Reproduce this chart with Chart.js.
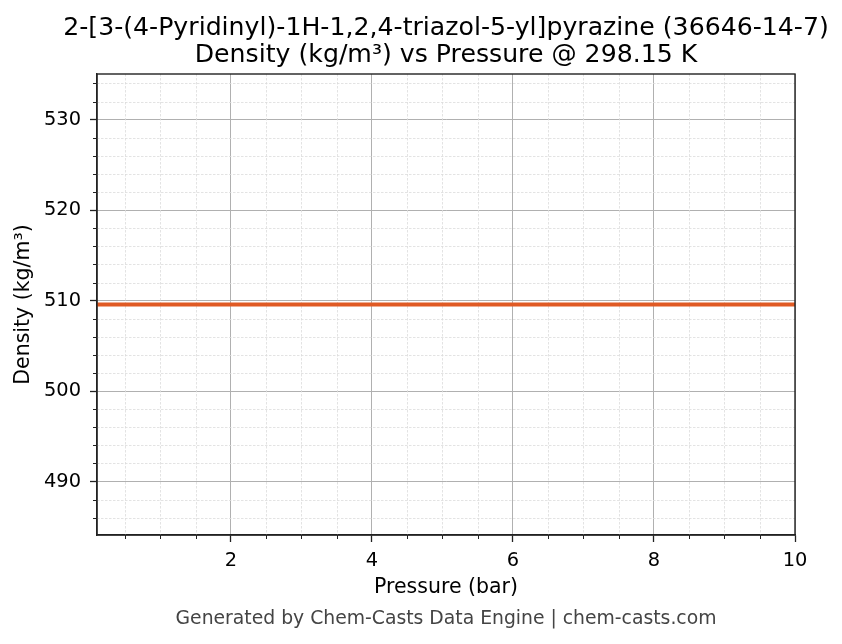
<!DOCTYPE html>
<html>
<head>
<meta charset="utf-8">
<script src="https://cdn.jsdelivr.net/npm/chart.js@4"></script>
<style>
  html, body { margin: 0; padding: 0; background: #ffffff; }
  #wrap { width: 842px; height: 644px; }
</style>
</head>
<body>
<div id="wrap"><canvas id="c" width="842" height="644"></canvas></div>
<script>
// ---- data ----
const pressures = [0.1, 1, 2, 3, 4, 5, 6, 7, 8, 9, 10];
const densities = [509.57, 509.57, 509.57, 509.57, 509.57, 509.57, 509.57, 509.57, 509.57, 509.57, 509.57];
const xMajorTicks = [2, 4, 6, 8, 10];
const xMinorTicks = [0.5, 1, 1.5, 2.5, 3, 3.5, 4.5, 5, 5.5, 6.5, 7, 7.5, 8.5, 9, 9.5];
const yMajorTicks = [490, 500, 510, 520, 530];
const yMinorTicks = [486, 488, 492, 494, 496, 498, 502, 504, 506, 508, 512, 514, 516, 518, 522, 524, 526, 528, 532, 534];
const titleLines = ['2-[3-(4-Pyridinyl)-1H-1,2,4-triazol-5-yl]pyrazine (36646-14-7)', 'Density (kg/m³) vs Pressure @ 298.15 K'];
const xLabel = 'Pressure (bar)';
const yLabel = 'Density (kg/m³)';
const footerText = 'Generated by Chem-Casts Data Engine | chem-casts.com';
const xRange = [0.1, 10];
const yRange = [484.09, 535.05];

const FONT = "'DejaVu Sans', 'Liberation Sans', sans-serif";
const AXIS_COLOR = '#222222';

const minorPlugin = {
  id: 'minorAndFrame',
  beforeDatasetsDraw(chart) {
    const {ctx, chartArea: a, scales: {x, y}} = chart;
    ctx.save();
    ctx.strokeStyle = '#dcdcdc';
    ctx.lineWidth = 0.8;
    ctx.setLineDash([2.5, 1.5]);
    xMinorTicks.forEach(v => {
      const px = Math.round(x.getPixelForValue(v)) + 0.5;
      ctx.beginPath(); ctx.moveTo(px, a.top); ctx.lineTo(px, a.bottom); ctx.stroke();
    });
    yMinorTicks.forEach(v => {
      const py = Math.round(y.getPixelForValue(v)) + 0.5;
      ctx.beginPath(); ctx.moveTo(a.left, py); ctx.lineTo(a.right, py); ctx.stroke();
    });
    ctx.restore();
  },
  afterDraw(chart) {
    const {ctx, chartArea: a, scales: {x, y}} = chart;
    ctx.save();
    // minor tick marks
    ctx.strokeStyle = AXIS_COLOR;
    ctx.lineWidth = 1;
    xMinorTicks.forEach(v => {
      const px = Math.round(x.getPixelForValue(v)) + 0.5;
      ctx.beginPath(); ctx.moveTo(px, a.bottom); ctx.lineTo(px, a.bottom + 4); ctx.stroke();
    });
    yMinorTicks.forEach(v => {
      const py = Math.round(y.getPixelForValue(v)) + 0.5;
      ctx.beginPath(); ctx.moveTo(a.left, py); ctx.lineTo(a.left - 4, py); ctx.stroke();
    });
    // frame
    ctx.lineWidth = 1.4;
    ctx.strokeRect(a.left, a.top, a.right - a.left, a.bottom - a.top);
    // title
    ctx.fillStyle = '#000000';
    ctx.textAlign = 'center';
    ctx.textBaseline = 'middle';
    ctx.font = '25.2px ' + FONT;
    const cx = (a.left + a.right) / 2;
    ctx.fillText(titleLines[0], cx, 28);
    ctx.fillText(titleLines[1], cx, 55.5);
    // footer
    ctx.fillStyle = '#444444';
    ctx.font = '18.8px ' + FONT;
    ctx.fillText(footerText, cx, 619);
    ctx.restore();
  }
};

new Chart(document.getElementById('c'), {
  type: 'scatter',
  data: {
    datasets: [{
      data: pressures.map((p, i) => ({x: p, y: densities[i]})),
      showLine: true,
      borderColor: '#E05A24',
      backgroundColor: '#E05A24',
      borderWidth: 4,
      pointRadius: 0,
      fill: false
    }]
  },
  options: {
    responsive: false,
    animation: false,
    devicePixelRatio: 1,
    layout: { padding: { left: 0, right: 47, top: 74, bottom: 44 } },
    plugins: { legend: { display: false }, title: { display: false }, tooltip: { enabled: false } },
    scales: {
      x: {
        type: 'linear',
        min: xRange[0], max: xRange[1],
        afterBuildTicks: s => { s.ticks = xMajorTicks.map(v => ({value: v})); },
        afterFit: s => { s.height = 65; },
        ticks: { font: { family: FONT, size: 19.4 }, color: '#000', padding: 7, maxRotation: 0, callback: v => String(v) },
        grid: { color: '#b0b0b0', lineWidth: 1, tickColor: AXIS_COLOR, tickLength: 7, tickWidth: 1.3 },
        border: { display: true, color: AXIS_COLOR, width: 1.4 },
        title: { display: true, text: xLabel, font: { family: FONT, size: 20.5 }, color: '#000', padding: { top: 0, bottom: 0 } }
      },
      y: {
        type: 'linear',
        min: yRange[0], max: yRange[1],
        afterBuildTicks: s => { s.ticks = yMajorTicks.map(v => ({value: v})); },
        afterFit: s => { s.width = 97; },
        ticks: { font: { family: FONT, size: 19.4 }, color: '#000', padding: 9, callback: v => String(v) },
        grid: { color: '#b0b0b0', lineWidth: 1, tickColor: AXIS_COLOR, tickLength: 7, tickWidth: 1.3 },
        border: { display: true, color: AXIS_COLOR, width: 1.4 },
        title: { display: true, text: yLabel, font: { family: FONT, size: 20.5 }, color: '#000', padding: { top: 11, bottom: 0 } }
      }
    }
  },
  plugins: [minorPlugin]
});
</script>
</body>
</html>
